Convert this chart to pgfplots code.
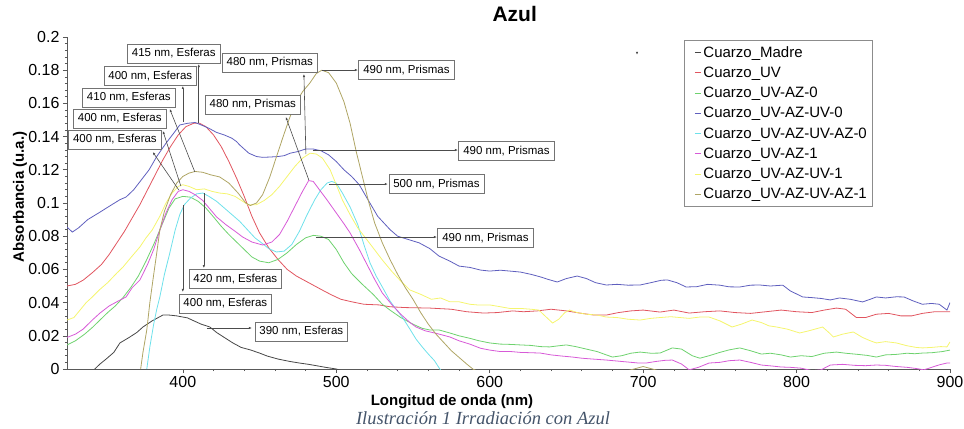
\documentclass[border=0pt]{standalone}
\usepackage{pgfplots}
\pgfplotsset{compat=1.18}
\usepackage{fontspec}
\setmainfont{Liberation Sans}
\newfontfamily\capfont{Liberation Serif}
\usetikzlibrary{arrows.meta}
\definecolor{cmadre}{RGB}{70,70,70}
\definecolor{cred}{RGB}{225,85,95}
\definecolor{cgreen}{RGB}{110,210,110}
\definecolor{cblue}{RGB}{95,95,190}
\definecolor{ccyan}{RGB}{110,225,235}
\definecolor{cmag}{RGB}{215,90,215}
\definecolor{cyel}{RGB}{245,245,110}
\definecolor{colive}{RGB}{175,165,100}
\definecolor{capcol}{RGB}{68,84,106}
\tikzset{
  ann/.style={draw=black!55, fill=white, font=\fontsize{11.5bp}{13bp}\selectfont, inner xsep=4.5bp, inner ysep=0bp, minimum height=19bp, text height=8.5bp, text depth=2.5bp, line width=0.6bp},
  arr/.style={draw=black!70, line width=0.6bp, -{Latex[length=3bp,width=2.5bp]}},
}
\begin{document}
\begin{tikzpicture}
\useasboundingbox (-67bp,-60bp) rectangle (897bp,369bp);
\begin{axis}[
  name=ax, scale only axis, width=883bp, height=332bp,
  xmin=324.5, xmax=900, ymin=0, ymax=0.2,
  axis x line*=bottom, axis y line*=left,
  clip mode=individual,
  xtick={400,500,600,700,800,900},
  xticklabels={400,500,600,700,800,900},
  ytick={0,0.02,0.04,0.06,0.08,0.1,0.12,0.14,0.16,0.18,0.2},
  yticklabels={0,0.02,0.04,0.06,0.08,0.1,0.12,0.14,0.16,0.18,0.2},
  minor x tick num=4, minor y tick num=4,
  tick align=outside, major tick length=4bp, minor tick length=2bp,
  tick style={black!65, line width=0.6bp},
  axis line style={black!65, line width=0.8bp},
  tick label style={font=\fontsize{16bp}{18bp}\selectfont},
  title={Azul},
  title style={font=\fontsize{21bp}{24bp}\selectfont\bfseries, at={(axis description cs:0.507,1)}, anchor=center, yshift=17bp},
  xlabel={Longitud de onda (nm)},
  xlabel style={font=\fontsize{15bp}{17bp}\selectfont\bfseries, at={(axis description cs:0.436,0)}, anchor=center, yshift=-33bp},
  ylabel={Absorbancia (u.a.)},
  ylabel style={font=\fontsize{15bp}{17bp}\selectfont\bfseries, at={(axis description cs:-0.0532,0.518)}, anchor=center},
  legend style={at={(rel axis cs:0.699,0.991)}, anchor=north west, draw=black!45, line width=0.6bp,
    font=\fontsize{15bp}{17bp}\selectfont, inner xsep=3bp, inner ysep=4bp, row sep=4.3bp, cells={anchor=west}},
  legend image code/.code={\path (0bp,0bp); \draw[#1, line width=1.1bp] (7bp,0bp) -- (13bp,0bp);},
  every axis plot/.append style={line width=0.8bp},
]
% Cuarzo_Madre
\addplot[cmadre] coordinates {(342.6,0) (346,0.003) (350,0.006) (355,0.010) (359,0.0157) (365,0.019) (370,0.022) (374,0.0253) (380,0.029) (384,0.031) (387,0.0325) (391,0.0325) (396,0.032) (400,0.0313) (403,0.0308) (406,0.0295) (412,0.027) (417.6,0.0253) (422,0.022) (427,0.019) (432.6,0.0157) (438,0.013) (444,0.0115) (450,0.0096) (455,0.0078) (462,0.006) (470,0.0045) (476,0.0036) (482,0.0028) (487,0.002) (493,0.001) (500,0) (510,-0.003)};
\addlegendentry{Cuarzo\_Madre}
% Cuarzo_UV
\addplot[cred] coordinates {(324.5,0.050) (330,0.051) (335,0.0535) (341,0.058) (347,0.063) (352,0.069) (357,0.076) (362,0.083) (367,0.091) (372,0.099) (377,0.108) (382,0.117) (387,0.126) (392,0.134) (397,0.141) (402,0.146) (407,0.148) (411,0.148) (415,0.146) (420,0.141) (425,0.134) (430,0.125) (435,0.115) (440,0.104) (445,0.092) (450,0.082) (456,0.073) (462,0.066) (468,0.060) (474,0.056) (480,0.053) (486,0.050) (492,0.047) (497,0.0446) (503,0.042) (510,0.0405) (518,0.039) (528,0.0386) (535,0.0375) (545,0.037) (561,0.0367) (575,0.036) (585,0.0345) (596,0.0337) (605,0.034) (615,0.035) (622,0.0345) (631,0.035) (640,0.036) (650,0.035) (660,0.0335) (668,0.0325) (676,0.0325) (684,0.034) (692,0.035) (700,0.0355) (711,0.0343) (720,0.0355) (730,0.0337) (740,0.0345) (750,0.035) (760,0.034) (770,0.0335) (780,0.0345) (790,0.0355) (800,0.0345) (810,0.034) (818,0.0355) (826,0.0367) (832,0.036) (839,0.031) (845,0.031) (852,0.033) (860,0.0335) (868,0.032) (875,0.032) (882,0.0335) (890,0.0345) (900,0.0345)};
\addlegendentry{Cuarzo\_UV}
% Cuarzo_UV-AZ-0
\addplot[cgreen] coordinates {(324.5,0.0145) (330,0.017) (336,0.021) (341,0.025) (346,0.0295) (351,0.034) (356,0.038) (361,0.043) (366,0.049) (371,0.056) (376,0.065) (381,0.075) (386,0.086) (391,0.097) (395,0.1025) (400,0.104) (405,0.1035) (410,0.101) (415,0.097) (420,0.0916) (425,0.086) (430,0.081) (435,0.0765) (440,0.072) (445,0.0675) (450,0.065) (456,0.064) (462,0.066) (468,0.070) (474,0.075) (480,0.079) (485,0.0805) (490,0.080) (495,0.078) (500,0.072) (505,0.064) (510,0.0575) (517,0.051) (524,0.045) (530,0.039) (535,0.0355) (542,0.031) (550,0.027) (556,0.0245) (561,0.0235) (567,0.0235) (574,0.0217) (580,0.020) (587,0.0185) (593,0.017) (600,0.0157) (607,0.015) (614,0.0148) (620,0.0145) (627,0.0142) (633,0.0135) (639,0.0133) (645,0.014) (650,0.0145) (656,0.0135) (663,0.012) (670,0.0105) (676,0.0085) (680,0.0072) (686,0.008) (692,0.0095) (698,0.0102) (705,0.0095) (711,0.0096) (719,0.0127) (725,0.012) (732,0.008) (737,0.0065) (743,0.008) (750,0.010) (756,0.0115) (763,0.0127) (770,0.011) (777,0.009) (783,0.0095) (790,0.0085) (796,0.0072) (803,0.008) (810,0.0075) (818,0.0095) (826,0.0102) (832,0.0095) (840,0.0088) (846,0.0082) (852,0.0072) (858,0.0085) (865,0.0088) (872,0.0095) (877,0.0092) (882,0.0096) (888,0.0098) (895,0.0105) (900,0.0114)};
\addlegendentry{Cuarzo\_UV-AZ-0}
% Cuarzo_UV-AZ-UV-0
\addplot[cblue] coordinates {(324.5,0.0855) (328,0.0825) (332,0.085) (338,0.090) (346,0.0945) (352,0.098) (359,0.102) (363,0.1036) (368,0.108) (373,0.114) (378,0.12) (383,0.128) (389,0.136) (394,0.142) (398,0.147) (403,0.148) (408,0.1485) (412,0.147) (417,0.145) (420,0.1435) (422,0.1425) (427,0.141) (432,0.139) (435,0.137) (437,0.135) (440,0.1325) (443,0.130) (448,0.128) (452,0.1275) (457,0.1277) (462,0.128) (466,0.1285) (470,0.130) (475,0.131) (480,0.1325) (485,0.1325) (490,0.1315) (495,0.129) (500,0.125) (505,0.120) (510,0.116) (515,0.111) (520,0.103) (527,0.092) (535,0.084) (540,0.080) (547,0.078) (554,0.076) (561,0.0725) (567,0.068) (574,0.065) (580,0.062) (587,0.0612) (594,0.0596) (600,0.059) (607,0.0595) (613,0.059) (620,0.0584) (627,0.057) (633,0.0555) (638,0.054) (644,0.0524) (650,0.0545) (657,0.056) (663,0.0545) (669,0.052) (676,0.0506) (683,0.051) (690,0.0505) (698,0.0506) (705,0.052) (712,0.0535) (716,0.0536) (722,0.052) (728,0.0494) (735,0.0496) (742,0.051) (750,0.0505) (756,0.0495) (763,0.0494) (770,0.0505) (776,0.0506) (783,0.050) (791,0.0505) (796,0.047) (804,0.0434) (810,0.043) (816,0.0425) (822,0.0416) (828,0.0428) (835,0.042) (843,0.0404) (848,0.042) (852,0.0434) (858,0.0428) (865,0.0435) (870,0.0434) (876,0.041) (882,0.039) (888,0.0395) (893,0.039) (898,0.0355) (900,0.040)};
\addlegendentry{Cuarzo\_UV-AZ-UV-0}
% Cuarzo_UV-AZ-UV-AZ-0
\addplot[ccyan] coordinates {(376.5,0) (378.5,0.0133) (381,0.027) (383,0.036) (385,0.0434) (388,0.057) (391.5,0.0699) (395,0.0837) (398,0.093) (401,0.099) (405,0.103) (409,0.1055) (413,0.106) (417,0.104) (422,0.101) (427,0.097) (432,0.093) (437,0.089) (442,0.084) (447,0.079) (452,0.0755) (456,0.0725) (461,0.0705) (466,0.071) (471,0.075) (476,0.083) (481,0.093) (486,0.102) (490,0.108) (494,0.112) (497,0.113) (500,0.112) (504,0.106) (509,0.0976) (514,0.087) (518,0.075) (522,0.0639) (526,0.056) (530,0.0494) (535,0.041) (539,0.036) (543,0.0313) (548,0.024) (552,0.018) (556,0.0133) (560,0.009) (564,0.005) (567.5,0) (570,-0.003)};
\addlegendentry{Cuarzo\_UV-AZ-UV-AZ-0}
% Cuarzo_UV-AZ-1
\addplot[cmag] coordinates {(324.5,0.019) (330,0.021) (335,0.024) (341,0.0295) (346,0.0337) (352,0.038) (357,0.0405) (363,0.0434) (367,0.049) (372,0.0536) (377,0.063) (381,0.072) (385,0.0837) (389,0.094) (393,0.102) (397,0.107) (400,0.108) (404,0.107) (408,0.105) (413,0.1015) (418,0.096) (422,0.0916) (428,0.087) (434,0.083) (439,0.0795) (445,0.0765) (452,0.0747) (458,0.0765) (463,0.081) (468,0.089) (473,0.098) (478,0.107) (482,0.1135) (485,0.113) (489,0.108) (494,0.1018) (500,0.094) (505,0.0875) (509,0.082) (515,0.072) (520,0.063) (525,0.054) (530,0.0458) (536,0.039) (542,0.033) (548,0.028) (552,0.0253) (558,0.023) (565,0.0215) (574,0.0193) (580,0.017) (587,0.015) (594,0.0125) (600,0.0114) (607,0.0105) (614,0.0105) (620,0.010) (627,0.0098) (633,0.0096) (640,0.0085) (647,0.0078) (654,0.0072) (660,0.0065) (667,0.006) (676,0.0054) (683,0.0048) (690,0.0042) (697,0.0036) (702,0.0036) (708,0.0045) (714,0.0052) (719,0.0054) (725,0.003) (730,-0.0005) (736,0.001) (743,0.0036) (750,0.004) (756,0.005) (763,0.0054) (770,0.004) (777,0.0024) (784,0.0018) (790,0.0012) (796,0.001) (803,0.0005) (810,-0.001) (816,-0.0005) (822,0.0024) (830,0.0028) (838,0.0022) (845,0.002) (852,0.0024) (858,0.0022) (865,0.0015) (872,0.001) (878,0.0003) (883,-0.0005) (888,0.001) (893,0.0025) (898,0.0036) (900,0.0036)};
\addlegendentry{Cuarzo\_UV-AZ-1}
% Cuarzo_UV-AZ-UV-1
\addplot[cyel] coordinates {(324.5,0.0295) (329,0.031) (333,0.0355) (337,0.040) (341,0.0434) (346,0.048) (351,0.052) (357,0.0578) (361,0.0614) (366,0.067) (372,0.0735) (376,0.079) (380,0.0837) (385,0.092) (389,0.100) (393,0.106) (397,0.110) (400,0.111) (404,0.110) (409,0.108) (414,0.1085) (419,0.107) (424,0.106) (429,0.1055) (434,0.104) (439,0.101) (443,0.0988) (448,0.099) (453,0.1015) (458,0.105) (463,0.110) (468,0.116) (473,0.122) (478,0.127) (483,0.130) (487,0.1295) (491,0.127) (496,0.120) (500,0.111) (504,0.1018) (509,0.093) (514,0.085) (519,0.079) (524,0.073) (530,0.0657) (536,0.059) (542,0.053) (548,0.0476) (555,0.045) (562,0.042) (568,0.0428) (574,0.0405) (580,0.0405) (587,0.039) (593,0.0385) (600,0.0386) (607,0.0375) (613,0.0365) (620,0.0365) (627,0.036) (632,0.0355) (636,0.032) (641,0.0277) (645,0.030) (649,0.034) (652,0.0355) (657,0.034) (663,0.033) (670,0.0325) (676,0.0313) (683,0.031) (690,0.030) (698,0.0295) (705,0.0305) (711,0.031) (718,0.0315) (724,0.031) (730,0.0305) (737,0.0313) (743,0.0313) (750,0.029) (758,0.0253) (764,0.027) (771,0.0295) (777,0.028) (782,0.026) (787,0.0253) (794,0.024) (802,0.0217) (808,0.023) (817,0.0253) (821,0.022) (824,0.0193) (830,0.021) (837,0.0223) (843,0.019) (848,0.017) (852,0.0157) (858,0.0165) (865,0.0157) (872,0.014) (878,0.013) (882,0.0127) (888,0.013) (894,0.0135) (898,0.0133) (900,0.0163)};
\addlegendentry{Cuarzo\_UV-AZ-UV-1}
% Cuarzo_UV-AZ-UV-AZ-1
\addplot[colive] coordinates {(372.5,0) (374,0.01) (376.5,0.0235) (378.5,0.040) (380.5,0.0536) (383,0.07) (385,0.0837) (388,0.095) (392,0.105) (396,0.112) (400,0.116) (404,0.118) (408,0.119) (413,0.1185) (418,0.117) (424,0.1157) (430,0.112) (436,0.106) (441,0.100) (444,0.0985) (448,0.100) (452,0.105) (456.7,0.1157) (460,0.125) (465,0.139) (469.8,0.1518) (474,0.161) (478,0.167) (482.8,0.1723) (487,0.178) (490.6,0.180) (495,0.1785) (500,0.1723) (505,0.161) (509,0.148) (513,0.131) (517,0.116) (521,0.101) (525,0.088) (530,0.076) (535,0.066) (540,0.057) (545,0.049) (550,0.042) (555,0.034) (560,0.027) (565,0.021) (570,0.016) (575,0.011) (580,0.007) (585,0.003) (589,0) (600,-0.005) (660,-0.005) (690,-0.001) (700,0.0015) (710,-0.001) (730,-0.005) (900,-0.005)};
\addlegendentry{Cuarzo\_UV-AZ-UV-AZ-1}
% annotations
\draw[arr] (axis cs:410.4,0.1482) -- (axis cs:410.4,0.1837);
\node[ann] at (axis cs:394.1,0.190) {415 nm, Esferas};
\draw[arr] (axis cs:400,0.1488) -- (axis cs:400,0.1705);
\node[ann] at (axis cs:378.8,0.1765) {400 nm, Esferas};
\draw[arr] (axis cs:407.8,0.1187) -- (axis cs:391.5,0.1566);
\node[ann] at (axis cs:364.8,0.1636) {410 nm, Esferas};
\draw[arr] (axis cs:398.7,0.1102) -- (axis cs:387,0.1434);
\node[ann] at (axis cs:358.9,0.1509) {400 nm, Esferas};
\draw[arr] (axis cs:397.4,0.1078) -- (axis cs:380.4,0.1307);
\node[ann] at (axis cs:355.7,0.1383) {400 nm, Esferas};
\draw[arr] (axis cs:480.2,0.1295) -- (axis cs:478.9,0.1777);
\node[ann] at (axis cs:456.7,0.1846) {480 nm, Prismas};
\draw[arr] (axis cs:482.1,0.1139) -- (axis cs:467.1,0.1518);
\node[ann] at (axis cs:445.6,0.1593) {480 nm, Prismas};
\draw[arr] (axis cs:490.6,0.1801) -- (axis cs:514.1,0.1801);
\node[ann] at (axis cs:545.7,0.1801) {490 nm, Prismas};
\draw[arr] (axis cs:484.7,0.1319) -- (axis cs:579.3,0.1319);
\node[ann] at (axis cs:610.9,0.1313) {490 nm, Prismas};
\draw[arr] (axis cs:495.2,0.1114) -- (axis cs:533.6,0.1114);
\node[ann] at (axis cs:565.3,0.1114) {500 nm, Prismas};
\draw[arr] (axis cs:486.7,0.0795) -- (axis cs:565.6,0.0795);
\node[ann] at (axis cs:597.2,0.0789) {490 nm, Prismas};
\draw[arr] (axis cs:413.7,0.106) -- (axis cs:413.7,0.0608);
\node[ann] at (axis cs:434.2,0.0542) {420 nm, Esferas};
\draw[arr] (axis cs:400,0.0988) -- (axis cs:400,0.0464);
\node[ann] at (axis cs:427.7,0.0392) {400 nm, Esferas};
\draw[arr] (axis cs:415.6,0.0247) -- (axis cs:445,0.0247);
\node[ann] at (axis cs:477.2,0.0223) {390 nm, Esferas};
\draw[arr] (axis cs:696,0.1912) -- (axis cs:696,0.1893);
\end{axis}
\node[font=\capfont\itshape\fontsize{18.5bp}{21bp}\selectfont, text=capcol] at (416bp,-49bp) {Ilustración 1 Irradiación con Azul};
\end{tikzpicture}
\end{document}
